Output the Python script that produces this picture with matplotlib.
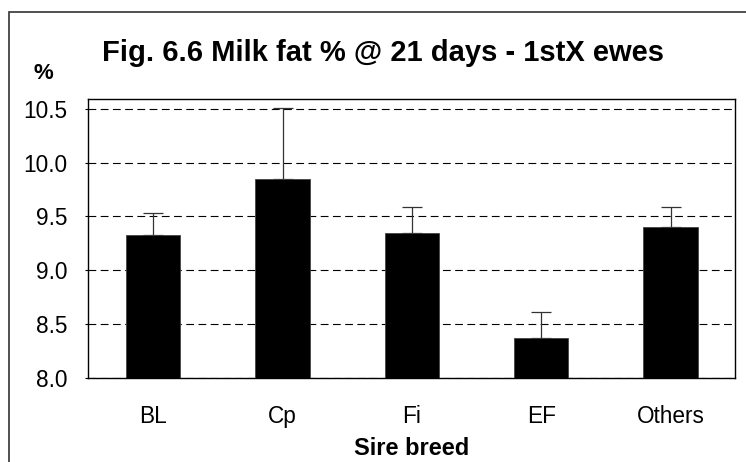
import matplotlib
matplotlib.use("Agg")
import matplotlib.pyplot as plt
from matplotlib.patches import Rectangle

# Milk fat % at 21 days by sire breed
breeds = ["BL", "Cp", "Fi", "EF", "Others"]
fat_pct = [9.33, 9.85, 9.35, 8.37, 9.40]
fat_se = [0.20, 0.66, 0.24, 0.24, 0.19]
y_ticks = [8.0, 8.5, 9.0, 9.5, 10.0, 10.5]

plt.rcParams['font.family'] = ['Liberation Sans', 'DejaVu Sans']

fig = plt.figure(figsize=(7.46, 4.62), dpi=100)
ax = fig.add_axes([0.1186, 0.1825, 0.867, 0.6026])

x = range(len(breeds))
ax.bar(x, fat_pct, width=0.42, color='black', edgecolor='#444444', linewidth=0.6, zorder=3)
ax.errorbar(x, fat_pct, yerr=[[0] * len(fat_se), fat_se], fmt='none',
            ecolor='#333333', elinewidth=0.9, capsize=7, capthick=0.9, zorder=2)

ax.set_xlim(-0.5, len(breeds) - 0.5)
ax.set_ylim(8.0, 10.59)
ax.set_yticks(y_ticks)
ax.set_yticklabels([f"{v:.1f}" for v in y_ticks])
ax.set_xticks(list(x))
ax.set_xticklabels(breeds)
ax.tick_params(axis='y', length=2, width=0.8, pad=13, labelsize=16.3)
ax.tick_params(axis='x', length=0, pad=20, labelsize=16.3)

ax.grid(axis='y', color='black', linestyle=(0, (7, 4)), linewidth=0.8, zorder=0)
ax.set_axisbelow(True)
for s in ax.spines.values():
    s.set_linewidth(1.0)
    s.set_color('black')

ax.set_xlabel("Sire breed", fontsize=17, fontweight='bold', labelpad=6)

fig.text(0.514, 0.868, "Fig. 6.6 Milk fat % @ 21 days - 1stX ewes",
         ha='center', va='baseline', fontsize=21, fontweight='bold')
fig.text(0.058, 0.84, "%", ha='center', va='center', fontsize=16, fontweight='bold')

# outer chart frame (left and top edges visible)
fig.patches.append(Rectangle((0.012, -0.1), 1.2, 1.074, transform=fig.transFigure,
                             fill=False, edgecolor='#333333', linewidth=1.2))

fig.savefig("out.png", dpi=100)
